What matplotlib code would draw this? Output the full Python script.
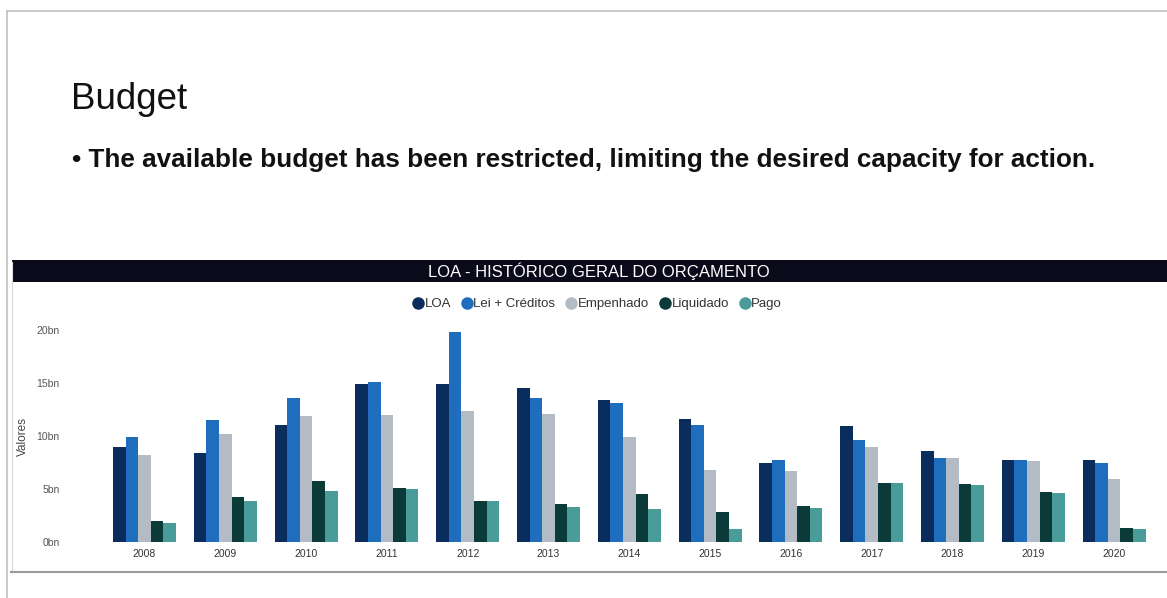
import matplotlib
matplotlib.use("Agg")
import matplotlib.pyplot as plt
from matplotlib.patches import Rectangle
from matplotlib.lines import Line2D
import numpy as np

years = ["2008", "2009", "2010", "2011", "2012", "2013", "2014",
         "2015", "2016", "2017", "2018", "2019", "2020"]
loa = [9.0, 8.4, 11.0, 14.9, 14.9, 14.5, 13.4, 11.6, 7.5, 10.9, 8.6, 7.7, 7.7]
lei_creditos = [9.9, 11.5, 13.6, 15.1, 19.8, 13.6, 13.1, 11.0, 7.7, 9.6, 7.9, 7.7, 7.5]
empenhado = [8.2, 10.2, 11.9, 12.0, 12.4, 12.1, 9.9, 6.8, 6.7, 9.0, 7.9, 7.6, 5.9]
liquidado = [2.0, 4.2, 5.8, 5.1, 3.9, 3.6, 4.5, 2.8, 3.4, 5.6, 5.5, 4.7, 1.3]
pago = [1.8, 3.9, 4.8, 5.0, 3.9, 3.3, 3.1, 1.25, 3.2, 5.6, 5.4, 4.6, 1.25]
series_names = ["LOA", "Lei + Créditos", "Empenhado", "Liquidado", "Pago"]
yticks = [0, 5, 10, 15, 20]
ytick_labels = ["0bn", "5bn", "10bn", "15bn", "20bn"]

colors = ["#0b2d5e", "#1f6dbd", "#b3bcc4", "#0b3b38", "#4a9c9a"]
FAM = ["Liberation Sans", "DejaVu Sans"]

W, H = 1167, 598
fig = plt.figure(figsize=(W / 100, H / 100), dpi=100)

def fx(px):
    return px / W

def fy(py):
    return 1 - py / H

# slide border lines
fig.add_artist(Line2D([fx(7), fx(W)], [fy(11), fy(11)], color="#c0c0c0", lw=1.2))
fig.add_artist(Line2D([fx(7), fx(7)], [fy(11), fy(H)], color="#c0c0c0", lw=1.2))
# chart frame
fig.add_artist(Line2D([fx(12), fx(12)], [fy(262), fy(572)], color="#d8d8d8", lw=0.8))
fig.add_artist(Line2D([fx(11), fx(W)], [fy(572), fy(572)], color="#9a9a9a", lw=1.5))

# titles
fig.text(fx(71), fy(109), "Budget", fontsize=26.5, family=FAM, va="baseline", ha="left", color="#111111")
fig.text(fx(72), fy(167),
         "\u2022 The available budget has been restricted, limiting the desired capacity for action.",
         fontsize=18.8, family=FAM, fontweight="bold", va="baseline", ha="left", color="#111111")

# header bar
fig.add_artist(Rectangle((fx(12), fy(282)), fx(W) - fx(12), fy(260) - fy(282),
                         transform=fig.transFigure, facecolor="#0a0a1a", edgecolor="none"))
fig.text(fx(599), fy(271), "LOA - HISTÓRICO GERAL DO ORÇAMENTO", fontsize=12,
         family=FAM, color="white", va="center", ha="center")

# axes
left_px, right_px = 75, 1162
base_px = 542
px_per_unit_y = 10.6
ymax = 21.0
top_px = base_px - ymax * px_per_unit_y
ax = fig.add_axes([fx(left_px), fy(base_px), fx(right_px) - fx(left_px), fy(top_px) - fy(base_px)])

x = np.arange(len(years))
bw = 0.156
data = [loa, lei_creditos, empenhado, liquidado, pago]
for i, (vals, c, name) in enumerate(zip(data, colors, series_names)):
    ax.bar(x + (i - 2) * bw, vals, width=bw, color=c, label=name, linewidth=0)

group_px = 80.8
xmin = -(144.5 - left_px) / group_px
xmax = xmin + (right_px - left_px) / group_px
ax.set_xlim(xmin, xmax)
ax.set_ylim(0, ymax)
ax.set_xticks(x)
ax.set_xticklabels(years, family=FAM, fontsize=7.5, color="#333333")
ax.set_yticks(yticks)
ax.set_yticklabels(ytick_labels, family=FAM, fontsize=7.5, color="#555555")
ax.tick_params(axis="both", length=0)
ax.tick_params(axis="y", pad=11)
ax.tick_params(axis="x", pad=5)
for s in ax.spines.values():
    s.set_visible(False)
fig.text(fx(23), fy(437), "Valores", rotation=90, family=FAM, fontsize=8.5,
         color="#444444", va="center", ha="center")

# legend
handles = [Line2D([], [], marker="o", linestyle="none", markersize=8,
                  markerfacecolor=c, markeredgecolor=c) for c in colors]
leg = fig.legend(handles, series_names, loc="center", bbox_to_anchor=(fx(597), fy(304)),
                 ncol=5, frameon=False, handletextpad=0.05, columnspacing=0.75,
                 prop={"family": FAM, "size": 9.5}, handlelength=0.9)
for t in leg.get_texts():
    t.set_color("#333333")

fig.savefig("out.png", dpi=100, facecolor="white")
